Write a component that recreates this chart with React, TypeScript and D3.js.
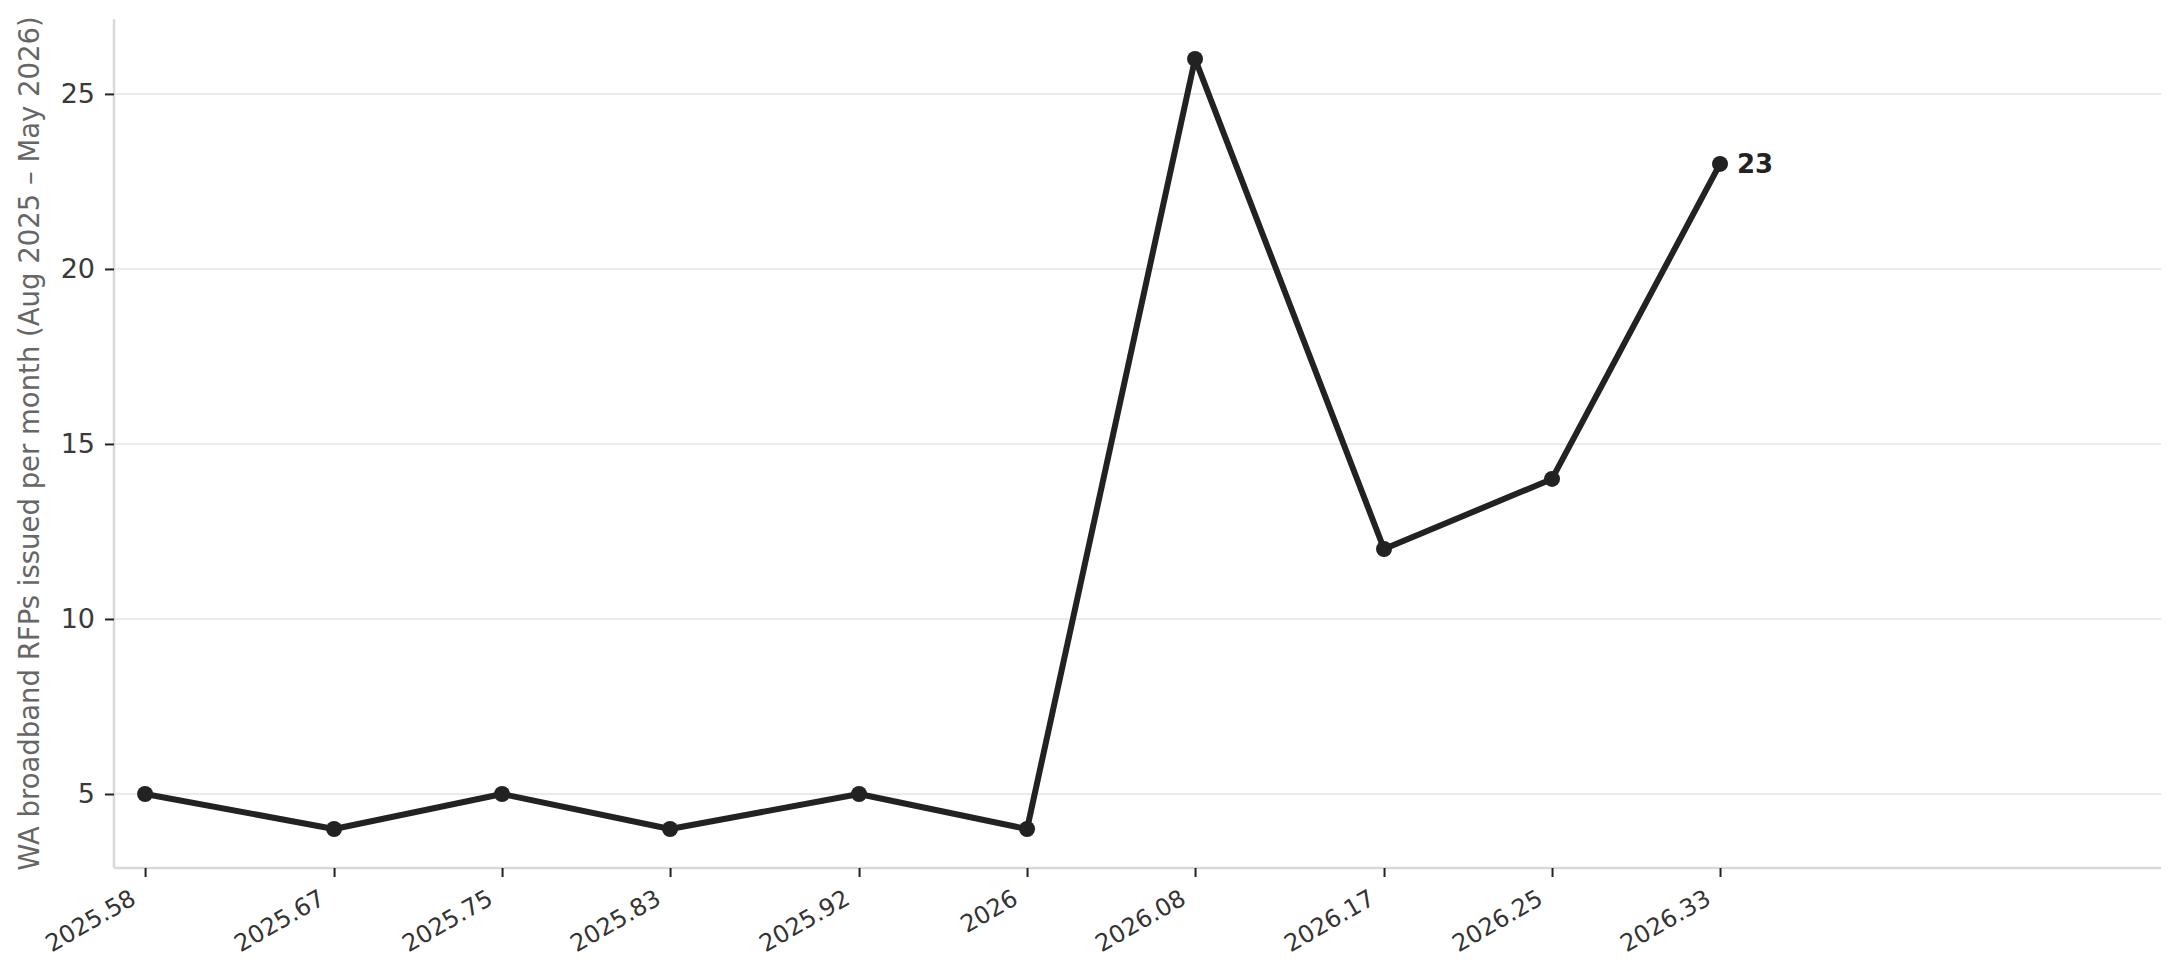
import React, { useRef, useEffect } from 'react';
import * as d3 from 'd3';

// month positions as decimal years (rounded as in the source)
const months = [2025.58, 2025.67, 2025.75, 2025.83, 2025.92, 2026, 2026.08, 2026.17, 2026.25, 2026.33];
const rfps = [5, 4, 5, 4, 5, 4, 26, 12, 14, 23];
const yTicks = [5, 10, 15, 20, 25];
const yLabel = 'WA broadband RFPs issued per month (Aug 2025 – May 2026)';

const App: React.FC = () => {
  const svgRef = useRef<SVGSVGElement>(null);
  const width = 2180;
  const height = 980;

  useEffect(() => {
    if (!svgRef.current) return;
    const margin = { top: 19, right: 19, bottom: 112, left: 114 };

    d3.select(svgRef.current).selectAll('*').remove();
    const svg = d3.select(svgRef.current)
      .attr('width', width)
      .attr('height', height);

    const x = d3.scaleLinear()
      .domain([2025.5652, 2026.54])
      .range([margin.left, width - margin.right]);
    const y = d3.scaleLinear()
      .domain([2.886, 27.14])
      .range([height - margin.bottom, margin.top]);

    const font = 'DejaVu Sans, sans-serif';

    // gridlines
    svg.append('g')
      .selectAll('line')
      .data(yTicks)
      .enter()
      .append('line')
      .attr('x1', margin.left)
      .attr('x2', width - margin.right)
      .attr('y1', d => y(d))
      .attr('y2', d => y(d))
      .attr('stroke', '#ebebeb')
      .attr('stroke-width', 2);

    // y axis
    const yAxis = svg.append('g')
      .attr('transform', `translate(${margin.left},0)`)
      .call(d3.axisLeft(y).tickValues(yTicks).tickSize(9).tickPadding(10).tickFormat(d3.format('d')));
    yAxis.select('.domain').attr('stroke', '#d9d9d9').attr('stroke-width', 2.5)
      .attr('d', `M0,${height - margin.bottom}V${margin.top}`);
    yAxis.selectAll('.tick line').attr('stroke', '#222').attr('stroke-width', 2);
    yAxis.selectAll('.tick text')
      .attr('fill', '#3a3a3a')
      .style('font-family', font)
      .style('font-size', '27px');

    // x axis
    const xAxis = svg.append('g')
      .attr('transform', `translate(0,${height - margin.bottom})`)
      .call(d3.axisBottom(x).tickValues(months).tickSize(9).tickFormat(d => String(+d)));
    xAxis.select('.domain').attr('stroke', '#d9d9d9').attr('stroke-width', 2.5)
      .attr('d', `M${margin.left},0H${width - margin.right}`);
    xAxis.selectAll('.tick line').attr('stroke', '#222').attr('stroke-width', 2);
    xAxis.selectAll('.tick text')
      .attr('fill', '#333')
      .attr('text-anchor', 'end')
      .attr('y', 0)
      .attr('dy', 0)
      .attr('transform', 'translate(-8,35) rotate(-30)')
      .style('font-family', font)
      .style('font-size', '24px');

    // y label
    svg.append('text')
      .attr('transform', `translate(39,${(margin.top + height - margin.bottom) / 2}) rotate(-90)`)
      .attr('text-anchor', 'middle')
      .attr('fill', '#666')
      .style('font-family', font)
      .style('font-size', '27.5px')
      .text(yLabel);

    const data = months.map((m, i) => ({ m, v: rfps[i] }));

    const line = d3.line<{ m: number; v: number }>()
      .x(d => x(d.m))
      .y(d => y(d.v));

    svg.append('path')
      .datum(data)
      .attr('fill', 'none')
      .attr('stroke', '#222')
      .attr('stroke-width', 6)
      .attr('stroke-linejoin', 'round')
      .attr('d', line);

    svg.append('g')
      .selectAll('circle')
      .data(data)
      .enter()
      .append('circle')
      .attr('cx', d => x(d.m))
      .attr('cy', d => y(d.v))
      .attr('r', 8)
      .attr('fill', '#222');

    const last = data[data.length - 1];
    svg.append('text')
      .attr('x', x(last.m) + 17)
      .attr('y', y(last.v))
      .attr('dy', '0.35em')
      .attr('fill', '#222')
      .style('font-family', font)
      .style('font-size', '26px')
      .style('font-weight', 'bold')
      .text(String(last.v));
  }, []);

  return (
    <svg ref={svgRef} style={{ position: 'absolute', left: 0, top: 0, background: '#fff' }}></svg>
  );
};

export default App;
